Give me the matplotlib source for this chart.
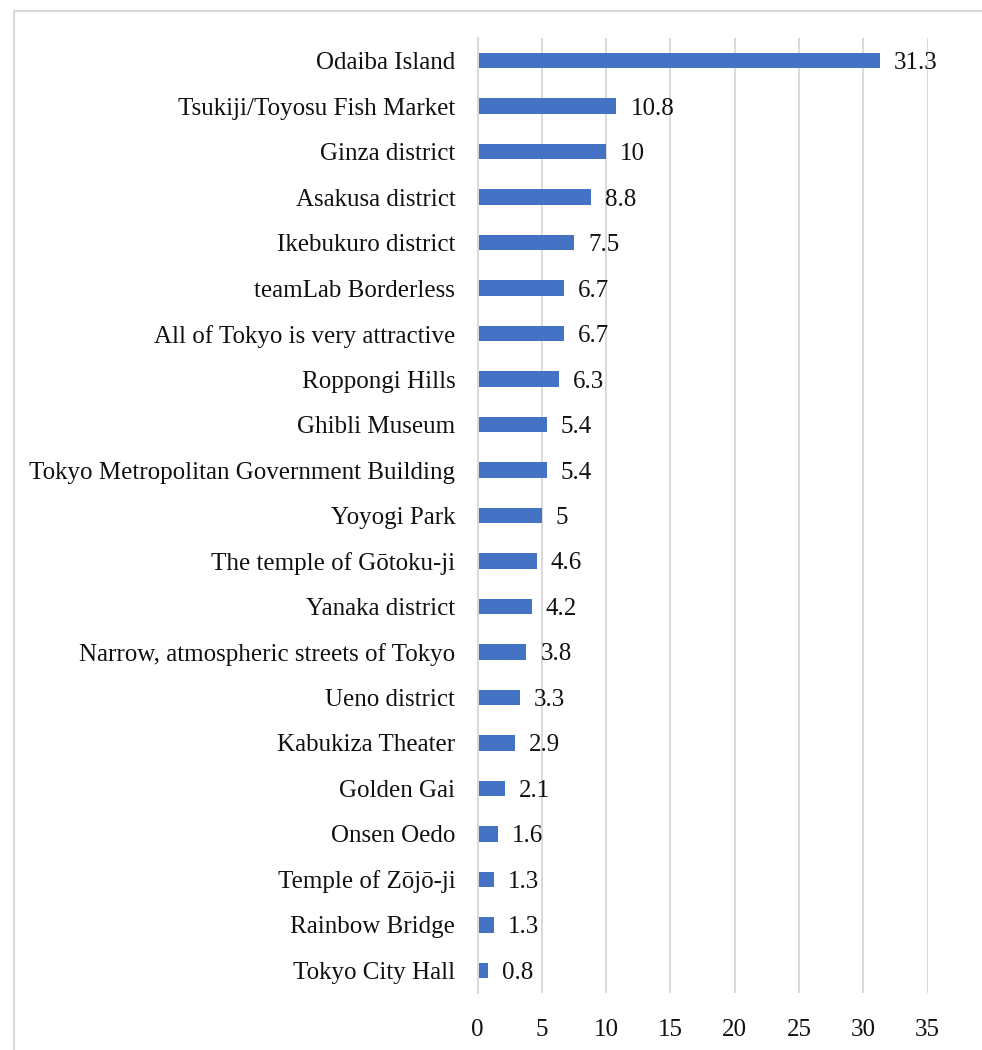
import matplotlib
matplotlib.use("Agg")
import matplotlib.pyplot as plt
from matplotlib.patches import Rectangle

places = [
    "Odaiba Island",
    "Tsukiji/Toyosu Fish Market",
    "Ginza district",
    "Asakusa district",
    "Ikebukuro district",
    "teamLab Borderless",
    "All of Tokyo is very attractive",
    "Roppongi Hills",
    "Ghibli Museum",
    "Tokyo Metropolitan Government Building",
    "Yoyogi Park",
    "The temple of Gōtoku-ji",
    "Yanaka district",
    "Narrow, atmospheric streets of Tokyo",
    "Ueno district",
    "Kabukiza Theater",
    "Golden Gai",
    "Onsen Oedo",
    "Temple of Zōjō-ji",
    "Rainbow Bridge",
    "Tokyo City Hall",
]
shares = [31.3, 10.8, 10, 8.8, 7.5, 6.7, 6.7, 6.3, 5.4, 5.4, 5,
          4.6, 4.2, 3.8, 3.3, 2.9, 2.1, 1.6, 1.3, 1.3, 0.8]
value_labels = ["31.3", "10.8", "10", "8.8", "7.5", "6.7", "6.7", "6.3", "5.4", "5.4", "5",
                "4.6", "4.2", "3.8", "3.3", "2.9", "2.1", "1.6", "1.3", "1.3", "0.8"]
x_ticks = [0, 5, 10, 15, 20, 25, 30, 35]

BAR_COLOR = "#4472C4"
GRID_COLOR = "#D9D9D9"
FONT = ["Liberation Serif", "DejaVu Serif"]
FS = 18

plt.rcParams["font.family"] = FONT

W, H = 982, 1050
fig = plt.figure(figsize=(W / 100, H / 100), dpi=100)
fig.set_facecolor("white")

# plot area in pixel terms
left_px, right_px, top_px, bottom_px = 477.5, 927.7, 38, 993
ax = fig.add_axes([left_px / W, 1 - bottom_px / H,
                   (right_px - left_px) / W, (bottom_px - top_px) / H])

pos = list(range(len(places)))
ax.barh(pos, shares, height=0.34, color=BAR_COLOR, zorder=3)

for y, v, lab in zip(pos, shares, value_labels):
    ax.annotate(lab, xy=(v, y), xytext=(14, 0), textcoords="offset pixels",
                ha="left", va="center_baseline", fontsize=FS, color="#111111")

ax.set_ylim(len(places) - 0.5, -0.5)
ax.set_xlim(0, 35)
ax.set_yticks(pos)
ax.set_yticklabels(places, fontsize=FS, color="#111111", va="center_baseline")
ax.set_xticks(x_ticks)
ax.set_xticklabels([str(t) for t in x_ticks], fontsize=FS, color="#111111")
ax.tick_params(axis="y", length=0, pad=16)
ax.tick_params(axis="x", length=0, pad=19)

ax.grid(axis="x", color=GRID_COLOR, linewidth=1.4, zorder=0)
ax.grid(axis="y", visible=False)
for side in ["top", "right", "bottom"]:
    ax.spines[side].set_visible(False)
ax.spines["left"].set_color(GRID_COLOR)
ax.spines["left"].set_linewidth(1.4)
ax.spines["left"].set_zorder(4)

# outer chart border (runs off the right and bottom edges)
fig.patches.append(Rectangle((13.5 / W, -0.05), 1.1, 1 - 10.5 / H + 0.05,
                             transform=fig.transFigure, fill=False,
                             edgecolor=GRID_COLOR, linewidth=1.5))

fig.savefig("out.png", dpi=100, facecolor="white")
